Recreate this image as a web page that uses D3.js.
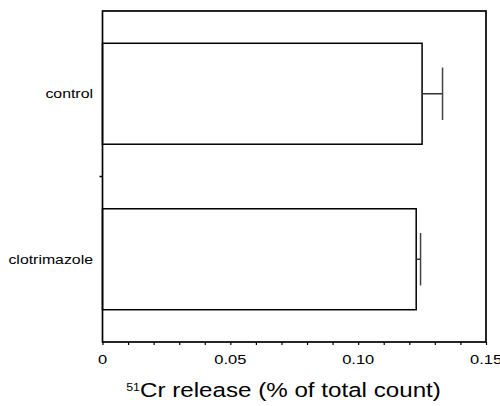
<!DOCTYPE html>
<html>
<head>
<meta charset="utf-8">
<script src="https://cdn.jsdelivr.net/npm/d3@7"></script>
<style>
  html, body { margin: 0; padding: 0; background: #fff; }
  svg { display: block; }
  text { font-family: "Liberation Sans", Arial, Helvetica, sans-serif; fill: #000; }
</style>
</head>
<body>
<svg id="chart" width="500" height="406"></svg>
<script>
// ---- data ----
const categories = ["control", "clotrimazole"];
const values = [0.125, 0.1227];
const errors = [0.008, 0.0017];
const tickValues = [0, 0.05, 0.10, 0.15];
const tickLabels = ["0", "0.05", "0.10", "0.15"];
const minorStep = 0.01;
const axisTitleSup = "51";
const axisTitleMain = "Cr release (% of total count)";

// ---- layout ----
const svg = d3.select("#chart");
const mLeft = 102.5, mRight = 486, mTop = 11, mBottom = 342;
const sx = 1.27; // horizontal stretch of the original text

const x = d3.scaleLinear().domain([0, 0.15]).range([mLeft, mRight]);
const y = d3.scaleBand().domain(categories).range([mTop, mBottom])
  .paddingInner(0.39).paddingOuter(0.195);

// bars
const g = svg.append("g");
g.selectAll("rect.bar").data(categories).join("rect")
  .attr("class", "bar")
  .attr("x", x(0))
  .attr("y", d => y(d))
  .attr("width", (d, i) => x(values[i]) - x(0))
  .attr("height", y.bandwidth())
  .attr("fill", "#fff")
  .attr("stroke", "#000")
  .attr("stroke-width", 1.5);

// error bars (positive side)
const capH = y.bandwidth() * 0.52;
categories.forEach((c, i) => {
  const cy = y(c) + y.bandwidth() / 2;
  g.append("line")
    .attr("x1", x(values[i])).attr("x2", x(values[i] + errors[i]))
    .attr("y1", cy).attr("y2", cy)
    .attr("stroke", "#333").attr("stroke-width", 1.5);
  g.append("line")
    .attr("x1", x(values[i] + errors[i])).attr("x2", x(values[i] + errors[i]))
    .attr("y1", cy - capH / 2).attr("y2", cy + capH / 2)
    .attr("stroke", "#444").attr("stroke-width", 1.5);
});

// bottom axis (minor ticks + labels)
const minorTicks = d3.range(0, 0.15 + 1e-9, minorStep);
const xAxis = d3.axisBottom(x).tickValues(minorTicks).tickSize(3).tickFormat("");
const ax = svg.append("g").attr("transform", `translate(0,${mBottom})`).call(xAxis);
ax.select(".domain").remove();
ax.selectAll(".tick line").attr("stroke", "#000").attr("stroke-width", 1.2);

tickValues.forEach((v, i) => {
  svg.append("text")
    .attr("transform", `translate(${x(v)},364) scale(${sx},1)`)
    .attr("text-anchor", "middle")
    .style("font-size", "13px")
    .text(tickLabels[i]);
});

// left axis tick between categories
const yAxisTicks = [y(categories[0]) + y.bandwidth() + y.step() * y.paddingInner() / 2];
yAxisTicks.forEach(t => {
  svg.append("line").attr("x1", mLeft - 3).attr("x2", mLeft)
    .attr("y1", t).attr("y2", t).attr("stroke", "#000").attr("stroke-width", 1.5);
});

// category labels
categories.forEach(c => {
  svg.append("text")
    .attr("transform", `translate(93,${y(c) + y.bandwidth() / 2 + 4.5}) scale(${sx},1)`)
    .attr("text-anchor", "end")
    .style("font-size", "12.5px")
    .text(c);
});

// frame
svg.append("rect")
  .attr("x", mLeft).attr("y", mTop)
  .attr("width", mRight - mLeft).attr("height", mBottom - mTop)
  .attr("fill", "none").attr("stroke", "#000").attr("stroke-width", 1.7);

// axis title
const title = svg.append("text")
  .attr("transform", `translate(283.5,397) scale(1.24,1)`)
  .attr("text-anchor", "middle")
  .style("font-size", "19.5px");
title.append("tspan").attr("dy", "-6").style("font-size", "10px").text(axisTitleSup);
title.append("tspan").attr("dy", "6").text(axisTitleMain);
</script>
</body>
</html>
